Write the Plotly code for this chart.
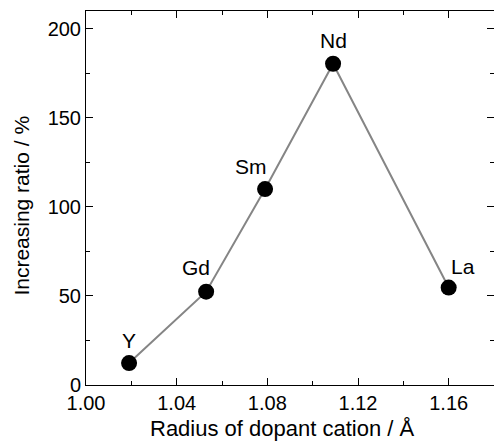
import plotly.graph_objects as go

elements = ["Y", "Gd", "Sm", "Nd", "La"]
radius = [1.019, 1.053, 1.079, 1.109, 1.160]
ratio = [12.3, 52.4, 110.0, 180.4, 54.7]
label_xshift = [0, -10, -14, 0, 14]
label_yshift = [23, 24, 23, 23, 21]

x_title = "Radius of dopant cation / Å"
y_title = "Increasing ratio / %"

FONT = "Liberation Sans, Arial, Helvetica, sans-serif"

fig = go.Figure()
fig.add_trace(go.Scatter(
    x=radius, y=ratio, mode="lines+markers",
    line=dict(color="#858585", width=2),
    marker=dict(color="black", size=16),
    showlegend=False,
))
for el, xv, yv, xs, ys in zip(elements, radius, ratio, label_xshift, label_yshift):
    fig.add_annotation(x=xv, y=yv, text=el, showarrow=False,
                       xshift=xs, yshift=ys,
                       font=dict(family=FONT, size=21, color="black"))

# axis titles as annotations for precise placement
fig.add_annotation(xref="paper", yref="paper", x=0.4816, y=-0.115,
                   xanchor="center", yanchor="middle", text=x_title, showarrow=False,
                   font=dict(family=FONT, size=22, color="black"))
fig.add_annotation(xref="paper", yref="paper", x=-0.159, y=0.48,
                   xanchor="center", yanchor="middle", text=y_title, showarrow=False,
                   textangle=-90, font=dict(family=FONT, size=21, color="black"))

axis_common = dict(
    showline=True, linecolor="black", linewidth=1, mirror="allticks",
    ticks="inside", ticklen=7, tickwidth=1, tickcolor="black",
    showgrid=False, zeroline=False,
    tickfont=dict(family=FONT, size=20, color="black"),
)
fig.update_xaxes(range=[1.00, 1.18], tickvals=[1.00, 1.04, 1.08, 1.12, 1.16],
                 ticktext=["1.00", "1.04", "1.08", "1.12", "1.16"],
                 minor=dict(dtick=0.02, tick0=1.0, ticks="inside", ticklen=4, tickcolor="black"),
                 **axis_common)
fig.update_yaxes(range=[0, 210], tickvals=[0, 50, 100, 150, 200],
                 minor=dict(dtick=25, tick0=0, ticks="inside", ticklen=4, tickcolor="black"),
                 **axis_common)
fig.update_layout(
    width=494, height=444,
    margin=dict(l=86, r=0, t=11, b=59),
    paper_bgcolor="white", plot_bgcolor="white",
)
fig.write_html("out.html")
